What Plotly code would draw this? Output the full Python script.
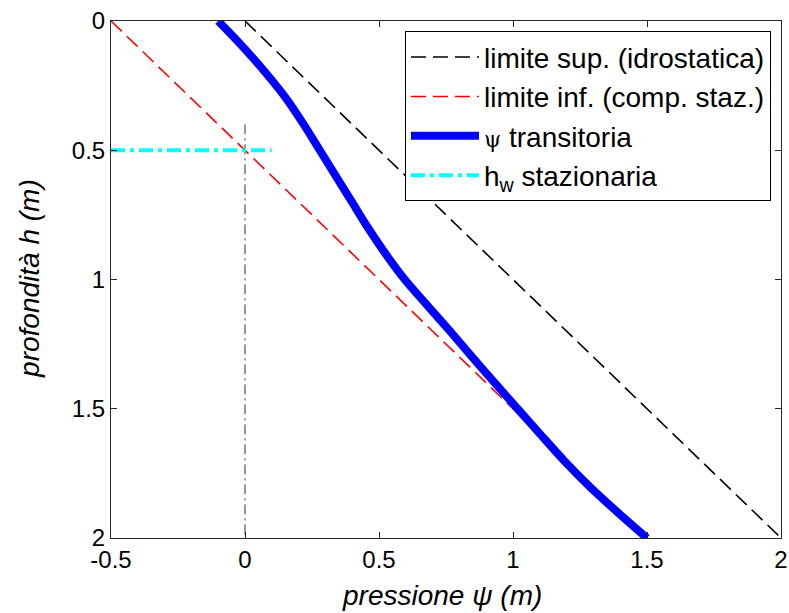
import plotly.graph_objects as go

# Depth values (m) and pressures (m)
h_blue = [0.0, 0.1, 0.2, 0.3, 0.4, 0.5, 0.6, 0.7, 0.8, 0.9, 1.0,
          1.1, 1.2, 1.3, 1.4, 1.5, 1.6, 1.7, 1.8, 1.9, 2.0]
psi_blue = [-0.100, -0.008, 0.077, 0.154, 0.219, 0.279, 0.339, 0.399, 0.459, 0.524, 0.596,
            0.680, 0.765, 0.848, 0.932, 1.017, 1.103, 1.190, 1.285, 1.390, 1.500]

h_sup = [0.0, 2.0]
psi_sup = [0.0, 2.0]

h_inf = [0.0, 2.0]
psi_inf = [-0.5, 1.5]

h_w = [0.5, 0.5]
psi_w = [-0.5, 0.1]

h_vert = [0.4, 2.0]
psi_vert = [0.0, 0.0]

x_ticks = [-0.5, 0, 0.5, 1, 1.5, 2]
x_labels = ["-0.5", "0", "0.5", "1", "1.5", "2"]
y_ticks = [0, 0.5, 1, 1.5, 2]
y_labels = ["0", "0.5", "1", "1.5", "2"]

x_title = "<i>pressione ψ (m)</i>"
y_title = "<i>profondità h (m)</i>"

FONT = "Liberation Sans, Arial, sans-serif"

fig = go.Figure()
fig.add_trace(go.Scatter(x=psi_vert, y=h_vert, mode="lines", showlegend=False,
                         line=dict(color="#333333", width=1, dash="10px,4px,2px,4px")))
fig.add_trace(go.Scatter(x=psi_sup, y=h_sup, mode="lines", name="limite sup. (idrostatica)",
                         line=dict(color="black", width=1.6, dash="15px,7px")))
fig.add_trace(go.Scatter(x=psi_inf, y=h_inf, mode="lines", name="limite inf. (comp. staz.)",
                         line=dict(color="red", width=1.6, dash="15px,7px")))
fig.add_trace(go.Scatter(x=psi_blue, y=h_blue, mode="lines",
                         name='<span style="font-family:DejaVu Serif, serif;font-size:22px">ψ</span> transitoria',
                         line=dict(color="blue", width=8, shape="spline", smoothing=0.8)))
fig.add_trace(go.Scatter(x=psi_w, y=h_w, mode="lines",
                         name="h<sub>w</sub> stazionaria",
                         line=dict(color="cyan", width=4, dash="14px,5px,4px,5px")))

axis_common = dict(showgrid=False, zeroline=False, showline=True, linecolor="#262626",
                   linewidth=1, mirror="ticks", ticks="inside", ticklen=6,
                   tickcolor="#262626", automargin=False,
                   tickfont=dict(family=FONT, size=24, color="black"))

fig.update_xaxes(range=[-0.5, 2], tickvals=x_ticks, ticktext=x_labels, **axis_common)
fig.update_yaxes(range=[2, 0], tickvals=y_ticks, ticktext=y_labels, **axis_common)

fig.add_annotation(text=x_title, xref="paper", yref="paper", x=0.494, y=-0.112,
                   xanchor="center", yanchor="middle", showarrow=False,
                   font=dict(family=FONT, size=28, color="black"))
fig.add_annotation(text=y_title, xref="paper", yref="paper", x=-0.121, y=0.503,
                   xanchor="center", yanchor="middle", showarrow=False, textangle=-90,
                   font=dict(family=FONT, size=28, color="black"))

fig.update_layout(
    width=789, height=613,
    margin=dict(l=111, r=8, t=21, b=75),
    plot_bgcolor="white", paper_bgcolor="white",
    font=dict(family=FONT, size=24, color="black"),
    legend=dict(x=0.985, y=0.98, xanchor="right", yanchor="top",
                bgcolor="white", bordercolor="black", borderwidth=1,
                font=dict(family=FONT, size=28, color="black"),
                itemwidth=68),
)

fig.write_html("out.html")
